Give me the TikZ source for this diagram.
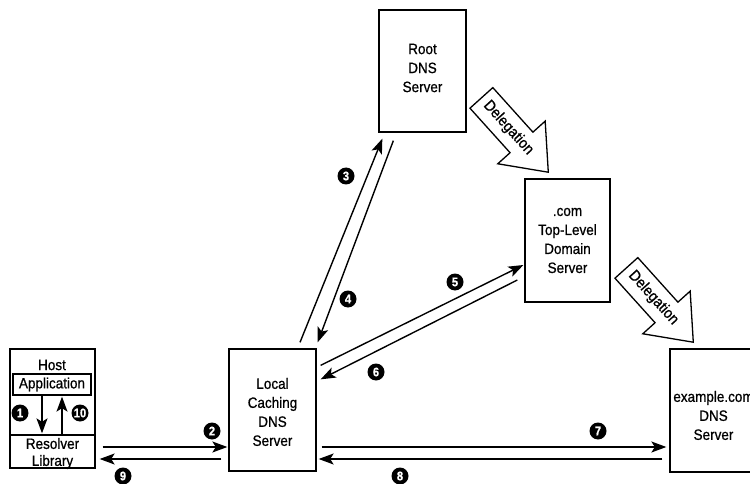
\documentclass[tikz,border=0pt]{standalone}
\usepackage{fontspec}
\setmainfont{Liberation Sans}[FakeStretch=0.9, FakeBold=0.8]
\usetikzlibrary{arrows.meta, shapes.arrows, calc}

\begin{document}
\begin{tikzpicture}[x=1pt, y=-1pt, font=\fontsize{15}{19}\selectfont]

\tikzset{server/.style = {shape=rectangle, draw, line width=1.3pt, minimum width=87pt, minimum height=122pt, align=center, inner sep=0pt}}
\tikzset{edge/.style = {-{Stealth[length=15pt, width=11pt, inset=3.5pt]}, line width=1.4pt}}
\tikzset{numdot/.style = {shape=circle, fill=black, text=white, font=\fontsize{12.5}{12.5}\selectfont\bfseries, minimum size=17pt, inner sep=0pt}}
\tikzset{delegation/.style = {single arrow, draw, line width=1.3pt, fill=white, rotate=-48, minimum height=100pt, single arrow head extend=16.5pt, single arrow tip angle=77, inner xsep=3pt, inner ysep=7.5pt, font=\fontsize{15.5}{15.5}\selectfont}}

\useasboundingbox (0,0) rectangle (750,484);
\clip (0,0) rectangle (750,484);

%servers
\node[server, minimum width=85pt, minimum height=119pt] (host) at (52.5,408.5) {};
\node (hostlabel) at (52,365) {Host};
\node[server, minimum width=78pt, minimum height=21pt] (app) at (52,384.5) {Application};
\node[server, minimum width=85pt, minimum height=33pt] (resolver) at (52.5,451.5) {};
\node[align=center] (reslabel) at (52.5,453.5) {Resolver\\[-2pt]Library};
\node[server] (local) at (272.5,410) {};
\node[align=center] (locallabel) at (272.5,412) {Local\\Caching\\DNS\\Server};
\node[server] (root) at (422.5,71) {};
\node[align=center] (rootlabel) at (422.5,68) {Root\\DNS\\Server};
\node[server, minimum width=85pt, minimum height=123pt] (tld) at (567.5,240.5) {.com\\Top-Level\\Domain\\Server};
\node[server, minimum height=123pt] (example) at (713.5,410.5) {};
\node[align=center] (examplelabel) at (713.5,415.5) {example.com\\DNS\\Server};

%delegations
\node[delegation, anchor=tip] (deleg1) at (549,173) {Delegation};
\node[delegation, anchor=tip] (deleg2) at (694,343) {Delegation};

%edges
\draw[edge] ($(app.south)+(-10,0)$) -- ($(app.south |- resolver.north)+(-10,-1)$);
\draw[edge] ($(app.south |- resolver.north)+(10,0)$) -- ($(app.south)+(10,1)$);
\draw[edge] ($(resolver.east)+(7,-4.5)$) -- ($(resolver.east -| local.west)+(-1,-4.5)$);
\draw[edge] ($(resolver.east -| local.west)+(-7,7.5)$) -- ($(resolver.east)+(4,7.5)$);
\draw[edge] ($(local.north)+(27.5,-6)$) -- ($(root.south west)+(4,6)$);
\draw[edge] ($(root.south west)+(15,8)$) -- ($(local.north east)+(1,-6)$);
\draw[edge] ($(local.north east)+(4,17)$) -- ($(tld.west)+(-1,24.5)$);
\draw[edge] ($(tld.west)+(-7,39.5)$) -- ($(local.north east)+(4,31)$);
\draw[edge] ($(local.east)+(5,37)$) -- ($(local.east -| example.west)+(-3,37)$);
\draw[edge] ($(local.east -| example.west)+(-7,49)$) -- ($(local.east)+(2,49)$);

%steps
\node[numdot] (n1) at (20,413) {1};
\node[numdot] (n10) at (80,413) {10};
\node[numdot] (n2) at (212,431) {2};
\node[numdot] (n9) at (123,476) {9};
\node[numdot] (n3) at (346,176) {3};
\node[numdot] (n4) at (348,299) {4};
\node[numdot] (n5) at (455,282) {5};
\node[numdot] (n6) at (376,372) {6};
\node[numdot] (n7) at (598,431) {7};
\node[numdot] (n8) at (400,476) {8};

\end{tikzpicture}
\end{document}
